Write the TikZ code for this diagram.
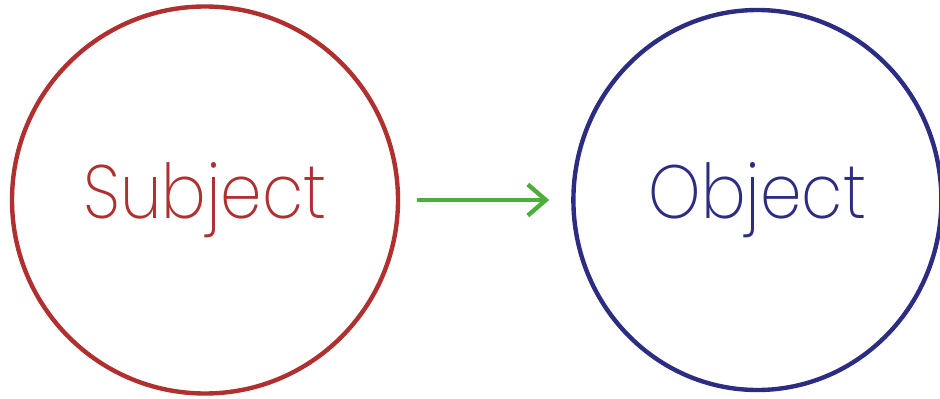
\documentclass[tikz,border=0pt]{standalone}
\usepackage{fontspec}
\newfontfamily\thinfont[FakeStretch=0.88]{Poppins ExtraLight}
\usepackage{tikz}
\usepackage{xcolor}
\usetikzlibrary{shapes.geometric, arrows.meta, positioning}

\definecolor{subjred}{HTML}{B0302F}
\definecolor{objblue}{HTML}{2C2C82}
\definecolor{arrowgreen}{HTML}{4DAE3B}

\begin{document}
\begin{tikzpicture}[node distance=3.42cm]
\tikzstyle{role}=[ellipse, inner sep=0pt, line width=2.5pt, font=\thinfont\fontsize{43}{43}\selectfont]
\tikzstyle{arrow}=[line width=2.5pt, draw=arrowgreen, -{Straight Barb[length=0.36cm, width=0.62cm, line width=2.5pt]}, shorten <=0.34cm, shorten >=0.44cm]

\useasboundingbox (0,0) rectangle (18.8,7.96);

\node (subject) [role, draw=subjred, text=subjred, minimum width=7.72cm, minimum height=7.74cm] at (4.10,3.96) {Subject};
\node (object) [role, draw=objblue, text=objblue, minimum width=7.36cm, minimum height=7.6cm, right=of subject] {Object};

\draw [arrow] (subject) -- (object);

\end{tikzpicture}
\end{document}
